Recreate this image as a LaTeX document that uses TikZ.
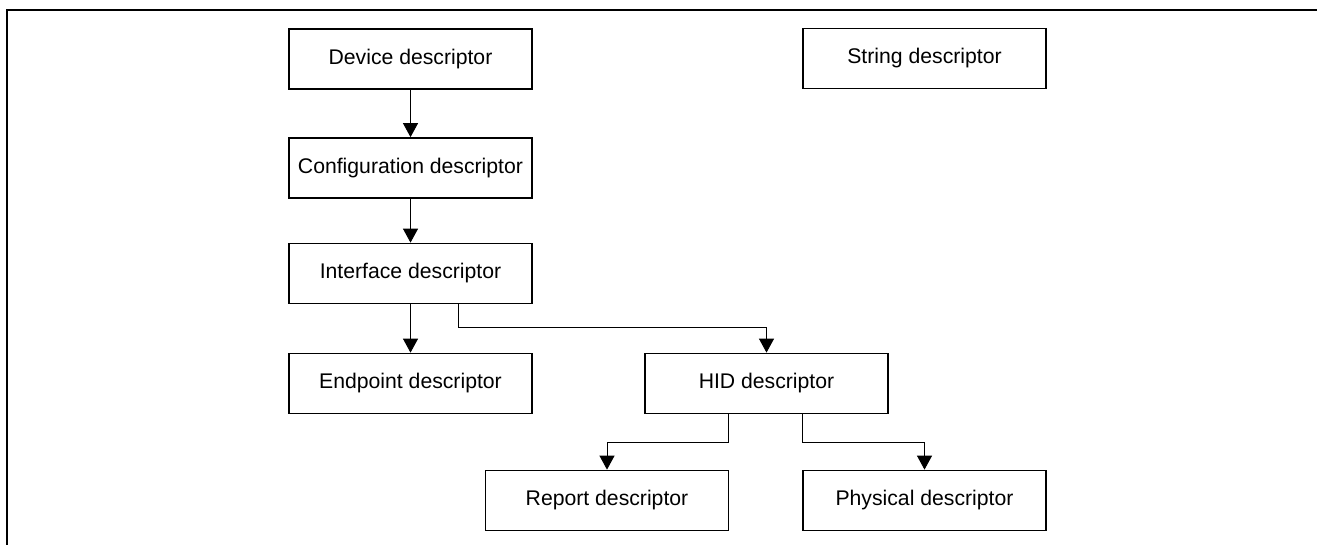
\documentclass[tikz,border=0pt]{standalone}
\usepackage{fontspec}
\setmainfont{Liberation Sans}
\usetikzlibrary{arrows.meta}
\begin{document}
\begin{tikzpicture}[x=1pt,y=-1pt,
  desc/.style={draw, line width=1.7pt, minimum width=243pt, minimum height=60pt,
    inner sep=0pt, font=\fontsize{21.2}{24}\selectfont},
  link/.style={line width=1pt, -{Triangle[width=15pt,length=14pt]}}]
\useasboundingbox (0,0) rectangle (1317,545);
% frame edges
\draw[line width=2.2pt] (7,545) -- (7,10) -- (1317,10);
% descriptors
\node[desc] (dev) at (410.5,59)   {Device descriptor};
\node[desc] (str) at (924.5,58.5) {String descriptor};
\node[desc] (cfg) at (410.5,168)  {Configuration descriptor};
\node[desc] (ifc) at (410.5,273.5){Interface descriptor};
\node[desc] (ep)  at (410.5,383.5){Endpoint descriptor};
\node[desc] (hid) at (766.5,383.5){HID descriptor};
\node[desc] (rep) at (607,500.5)  {Report descriptor};
\node[desc] (phy) at (924.5,500.5){Physical descriptor};
% hierarchy links
\draw[link] (dev) -- (cfg);
\draw[link] (cfg) -- (ifc);
\draw[link] (ifc) -- (ep);
\draw[link] ([xshift=47.5pt]ifc.south) -- ++(0,23) -| (hid.north);
\draw[link] ([xshift=-38.5pt]hid.south) -- ++(0,28) -| (rep.north);
\draw[link] ([xshift=35.5pt]hid.south) -- ++(0,28) -| (phy.north);
\end{tikzpicture}
\end{document}
